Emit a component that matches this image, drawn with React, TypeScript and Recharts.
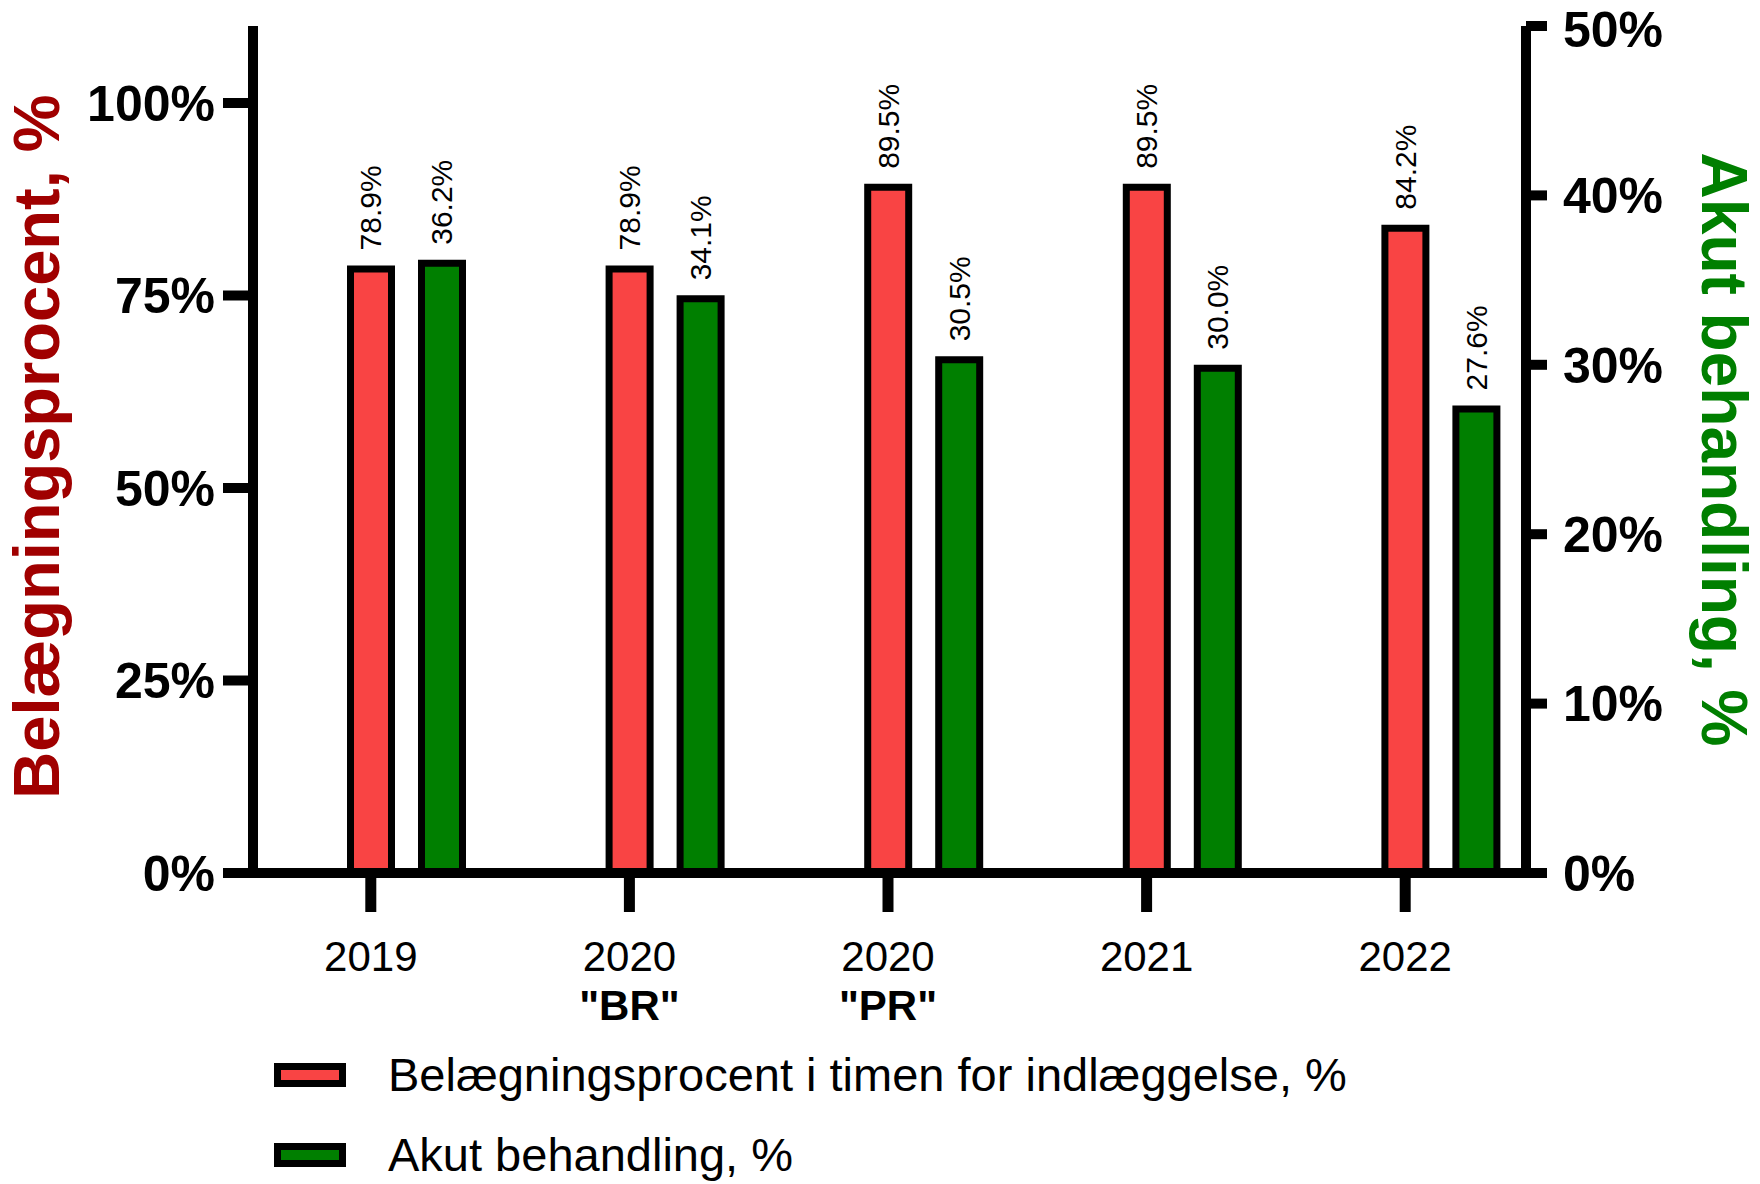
import React from 'react';
import { BarChart, Bar, XAxis, YAxis, Legend, LabelList, Rectangle } from 'recharts';

const years = ['2019', '2020', '2020', '2021', '2022'];
const periods = ['', '"BR"', '"PR"', '', ''];
const occupancy = [78.9, 78.9, 89.5, 89.5, 84.2];
const acute = [36.2, 34.1, 30.5, 30.0, 27.6];
const leftTicks = [0, 25, 50, 75, 100];
const rightTicks = [0, 10, 20, 30, 40, 50];

const occupancyName = 'Belægningsprocent i timen for indlæggelse, %';
const acuteName = 'Akut behandling, %';
const leftTitle = 'Belægningsprocent, %';
const rightTitle = 'Akut behandling, %';

const data = years.map((y, i) => ({
  key: `${y}${periods[i]}-${i}`,
  occupancy: occupancy[i],
  acute: acute[i],
}));

const FONT = '"Liberation Sans", Arial, sans-serif';
const RED = '#F94444';
const GREEN = '#007F00';
const BORDER = 7;
const BAR_SIZE = 48;
const BAR_GAP = 23;
// ticks sit under the first (red) bar of each group
const TICK_SHIFT = (BAR_SIZE + BAR_GAP) / 2;

const colors: Record<string, string> = { occupancy: RED, acute: GREEN };
const seriesOrder = ['occupancy', 'acute'];

// border drawn inside the bar, like the source program does
const InsetBar = (props: any) => {
  const { x, y, width, height } = props;
  const h = BORDER / 2;
  return (
    <Rectangle {...props} x={x + h} y={y + h} width={Math.max(width - BORDER, 0)}
      height={Math.max(height - h, 0)} />
  );
};

const XTick = (props: any) => {
  const { x, y, index } = props;
  const tx = x - TICK_SHIFT;
  return (
    <g>
      <line x1={tx} x2={tx} y1={y + 4} y2={y + 39} stroke="#000" strokeWidth={11} />
      <text x={tx} y={y + 83} textAnchor="middle" dominantBaseline="central"
        fontFamily={FONT} fontSize={42} fill="#000">
        {years[index]}
      </text>
      {periods[index] && (
        <text x={tx} y={y + 132} textAnchor="middle" dominantBaseline="central"
          fontFamily={FONT} fontSize={42} fontWeight={700} fill="#000">
          {periods[index]}
        </text>
      )}
    </g>
  );
};

const valueLabel = (props: any) => {
  const { x, y, width, value } = props;
  const cx = x + width / 2;
  const cy = y - 15;
  return (
    <text x={cx} y={cy} transform={`rotate(-90 ${cx} ${cy})`} textAnchor="start"
      dominantBaseline="central" fontFamily={FONT} fontSize={30} fill="#000">
      {Number(value).toFixed(1)}%
    </text>
  );
};

const leftTitleLabel = (props: any) => {
  const { viewBox } = props;
  const tx = viewBox.x + 36;
  const ty = viewBox.y + viewBox.height / 2 - 3;
  return (
    <text x={tx} y={ty} transform={`rotate(-90 ${tx} ${ty})`} textAnchor="middle"
      dominantBaseline="central" fontFamily={FONT} fontSize={65} fontWeight={700} fill="#A00000">
      {leftTitle}
    </text>
  );
};

const rightTitleLabel = (props: any) => {
  const { viewBox } = props;
  const tx = viewBox.x + 198;
  const ty = viewBox.y + viewBox.height / 2;
  return (
    <text x={tx} y={ty} transform={`rotate(90 ${tx} ${ty})`} textAnchor="middle"
      dominantBaseline="central" fontFamily={FONT} fontSize={64} fontWeight={700} fill={GREEN}>
      {rightTitle}
    </text>
  );
};

const LegendContent = (props: any) => {
  const items = [...(props.payload || [])].sort(
    (a: any, b: any) => seriesOrder.indexOf(a.dataKey) - seriesOrder.indexOf(b.dataKey)
  );
  return (
    <div style={{ fontFamily: FONT }}>
      {items.map((entry: any) => (
        <div key={entry.value} style={{ display: 'flex', alignItems: 'center', height: 80 }}>
          <div style={{
            width: 58, height: 10, border: '7px solid #000',
            background: colors[entry.dataKey] || entry.color,
          }} />
          <span style={{ marginLeft: 42, fontSize: 47, color: '#000', lineHeight: '80px' }}>
            {entry.value}
          </span>
        </div>
      ))}
    </div>
  );
};

const App: React.FC = () => {
  return (
    <div style={{ position: 'absolute', left: 0, top: 0, width: 1760, height: 1184, background: '#fff' }}>
      <BarChart
        width={1760}
        height={1184}
        data={data}
        margin={{ top: 26, right: 0, bottom: 0, left: 0 }}
        barGap={BAR_GAP}
        barSize={BAR_SIZE}
      >
        <XAxis
          dataKey="key"
          height={311}
          padding={{ left: 24, right: -44 }}
          axisLine={{ stroke: '#000', strokeWidth: 10 }}
          tickLine={false}
          tickSize={0}
          tickMargin={0}
          interval={0}
          tick={<XTick />}
        />
        <YAxis
          yAxisId="left"
          width={253}
          domain={[0, 110]}
          ticks={leftTicks}
          tickFormatter={(v) => `${v}%`}
          axisLine={{ stroke: '#000', strokeWidth: 10 }}
          tickLine={{ stroke: '#000', strokeWidth: 10 }}
          tickSize={30}
          tickMargin={8}
          tick={{ fill: '#000', fontSize: 50, fontWeight: 700, fontFamily: FONT }}
          label={{ content: leftTitleLabel }}
        />
        <YAxis
          yAxisId="right"
          orientation="right"
          width={234}
          domain={[0, 50]}
          ticks={rightTicks}
          tickFormatter={(v) => `${v}%`}
          axisLine={{ stroke: '#000', strokeWidth: 10 }}
          tickLine={{ stroke: '#000', strokeWidth: 10 }}
          tickSize={21}
          tickMargin={16}
          tick={{ fill: '#000', fontSize: 50, fontWeight: 700, fontFamily: FONT }}
          label={{ content: rightTitleLabel }}
        />
        <Legend
          layout="vertical"
          align="center"
          verticalAlign="middle"
          content={<LegendContent />}
          wrapperStyle={{ left: 274, top: 1035, width: 1300 }}
        />
        <Bar dataKey="occupancy" name={occupancyName} yAxisId="left" fill={RED}
          stroke="#000" strokeWidth={BORDER} shape={<InsetBar />} isAnimationActive={false}>
          <LabelList dataKey="occupancy" content={valueLabel} />
        </Bar>
        <Bar dataKey="acute" name={acuteName} yAxisId="right" fill={GREEN}
          stroke="#000" strokeWidth={BORDER} shape={<InsetBar />} isAnimationActive={false}>
          <LabelList dataKey="acute" content={valueLabel} />
        </Bar>
      </BarChart>
    </div>
  );
};

export default App;
